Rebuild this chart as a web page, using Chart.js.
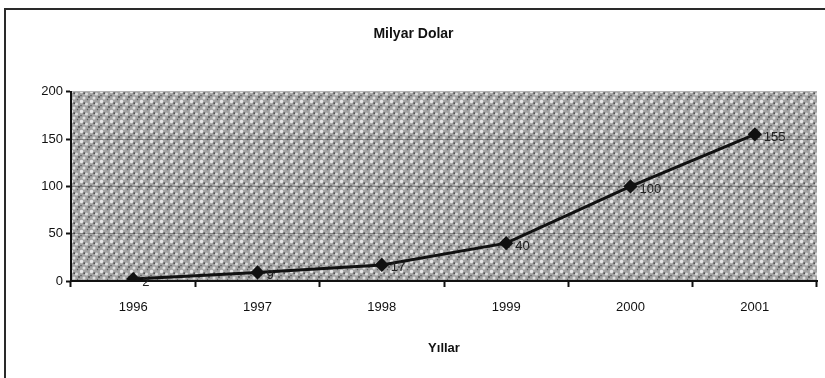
<!DOCTYPE html>
<html>
<head>
<meta charset="utf-8">
<script src="https://cdn.jsdelivr.net/npm/chart.js@4/dist/chart.umd.min.js"></script>
<style>
  html, body { margin: 0; padding: 0; background: #fff; overflow: hidden; }
  #frame { position: absolute; left: 4px; top: 8px; width: 900px; height: 400px;
           border-left: 2px solid #2a2a2a; border-top: 2px solid #2a2a2a; }
  #wrap { position: absolute; left: 0; top: 0; width: 825px; height: 378px; }
</style>
</head>
<body>
<div id="frame"></div>
<div id="wrap"><canvas id="c" width="825" height="378"></canvas></div>
<script>
// Yearly volume, billions of dollars
const years = ['1996', '1997', '1998', '1999', '2000', '2001'];
const volume = [2, 9, 17, 40, 100, 155];
const valueTicks = [0, 50, 100, 150, 200];

const FONT = '"Liberation Sans", Arial, sans-serif';

// Stippled grey fill for the plot background (diagonal dot lattice)
function makeStipple() {
  const s = 10;
  const c = document.createElement('canvas');
  c.width = s; c.height = s;
  const g = c.getContext('2d');
  g.fillStyle = '#a2a2a2';
  g.fillRect(0, 0, s, s);
  const dot = (x, y, r, col) => {
    g.fillStyle = col;
    for (const dx of [-s, 0, s]) for (const dy of [-s, 0, s]) {
      g.beginPath(); g.arc(x + dx, y + dy, r, 0, Math.PI * 2); g.fill();
    }
  };
  dot(1.5, 1.5, 1.7, '#e6e6e6');
  dot(6.5, 4.0, 1.6, '#dadada');
  dot(4.0, 8.0, 1.5, '#e0e0e0');
  dot(4.2, 3.2, 0.9, '#505050');
  dot(9.0, 7.0, 0.9, '#4a4a4a');
  dot(1.0, 5.6, 0.8, '#5a5a5a');
  dot(7.5, 9.5, 0.7, '#606060');
  return c;
}

const plotBackground = {
  id: 'plotBackground',
  beforeDraw(chart) {
    const { ctx, chartArea: a } = chart;
    ctx.save();
    ctx.fillStyle = ctx.createPattern(makeStipple(), 'repeat');
    ctx.fillRect(a.left, a.top, a.right - a.left, a.bottom - a.top);
    ctx.restore();
  }
};

// Value labels to the right of each marker
const pointValues = {
  id: 'pointValues',
  afterDatasetsDraw(chart) {
    const { ctx } = chart;
    const meta = chart.getDatasetMeta(0);
    ctx.save();
    ctx.font = '13px ' + FONT;
    ctx.fillStyle = '#222';
    ctx.textAlign = 'left';
    ctx.textBaseline = 'middle';
    meta.data.forEach((pt, i) => {
      ctx.fillText(String(volume[i]), pt.x + 9, pt.y + 3);
    });
    ctx.restore();
  }
};

new Chart(document.getElementById('c'), {
  type: 'line',
  data: {
    labels: years,
    datasets: [{
      data: volume,
      borderColor: '#111',
      borderWidth: 3,
      backgroundColor: '#111',
      pointStyle: 'rectRot',
      pointRadius: 5,
      pointBackgroundColor: '#111',
      pointBorderColor: '#111',
      tension: 0,
      fill: false
    }]
  },
  options: {
    responsive: false,
    animation: false,
    events: [],
    layout: { padding: { left: 10, right: 8, top: 26, bottom: 8 } },
    plugins: {
      legend: { display: false },
      tooltip: { enabled: false },
      title: {
        display: true,
        text: 'Milyar Dolar',
        color: '#111',
        font: { family: FONT, size: 14, weight: 'bold' },
        padding: { top: 0, bottom: 49 }
      }
    },
    scales: {
      x: {
        type: 'category',
        offset: true,
        grid: {
          offset: true,
          drawOnChartArea: false,
          drawTicks: true,
          tickLength: 6,
          tickColor: '#111',
          tickWidth: 2
        },
        border: { display: true, color: '#111', width: 2 },
        ticks: { color: '#111', font: { family: FONT, size: 13 }, padding: 13, maxRotation: 0 },
        title: {
          display: true,
          text: 'Yıllar',
          color: '#111',
          font: { family: FONT, size: 13, weight: 'bold' },
          padding: { top: 0, bottom: 14 }
        },
        afterFit(scale) { scale.height = 89; }
      },
      y: {
        min: 0,
        max: 200,
        afterBuildTicks(scale) { scale.ticks = valueTicks.map(v => ({ value: v })); },
        grid: {
          color: 'rgba(40,40,40,0.3)',
          lineWidth: 1,
          drawTicks: true,
          tickLength: 5,
          tickColor: '#111',
          tickWidth: 2
        },
        border: { display: true, color: '#111', width: 2 },
        ticks: { color: '#111', font: { family: FONT, size: 13 }, padding: 3 },
        afterFit(scale) { scale.width = 61; }
      }
    }
  },
  plugins: [plotBackground, pointValues]
});
</script>
</body>
</html>
